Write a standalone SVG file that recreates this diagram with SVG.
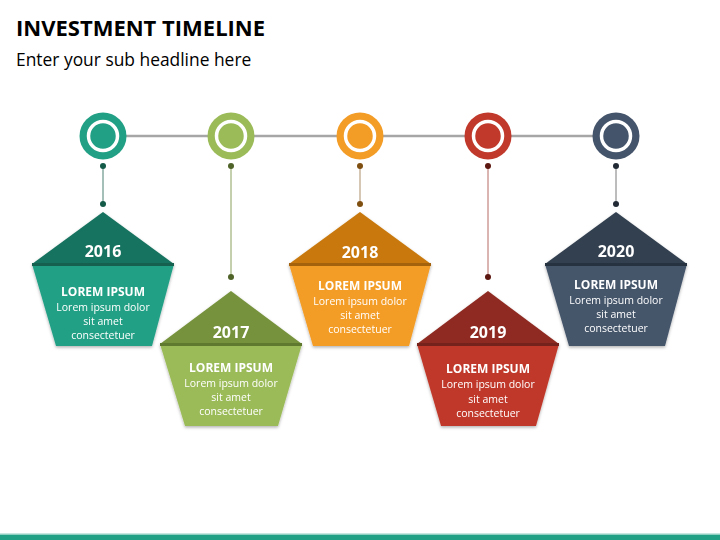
<svg xmlns="http://www.w3.org/2000/svg" width="720" height="540" viewBox="0 0 720 540">
<style>
.t{font-family:"Open Sans","Liberation Sans",sans-serif;fill:#000}
.w{font-family:"Open Sans","Liberation Sans",sans-serif;fill:#fff;text-anchor:middle}
.yr{font-size:16px;font-weight:bold}
.hd{font-size:12px;font-weight:bold}
.bd{font-size:10.5px}
</style>
<defs>
<filter id="sh" x="-20%" y="-20%" width="140%" height="140%"><feDropShadow dx="0" dy="1.5" stdDeviation="1.5" flood-color="#000" flood-opacity="0.3"/></filter>
</defs>
<rect width="720" height="540" fill="#fff"/>
<text class="t" x="16" y="36" font-size="22" font-weight="bold">INVESTMENT TIMELINE</text>
<text class="t" x="16" y="66" font-size="17.4">Enter your sub headline here</text>
<rect x="0" y="533.5" width="720" height="1.5" fill="#8fd0c2"/>
<rect x="0" y="535" width="720" height="5" fill="#22a085"/>

<g id="connectors">
<line x1="103" y1="136" x2="616" y2="136" stroke="#a6a6a6" stroke-width="2.5"/>
<line x1="103" y1="166" x2="103" y2="204" stroke="#4a7f72" stroke-width="1"/>
<line x1="231" y1="166" x2="231" y2="277" stroke="#8aa15c" stroke-width="1"/>
<line x1="360" y1="166" x2="360" y2="204" stroke="#c9b49c" stroke-width="1.5"/>
<line x1="488" y1="166" x2="488" y2="277" stroke="#b56a62" stroke-width="1"/>
<line x1="616" y1="166" x2="616" y2="204" stroke="#7a7a7a" stroke-width="1"/>
<circle cx="103" cy="166" r="3" fill="#145a48"/><circle cx="103" cy="204" r="3" fill="#145a48"/>
<circle cx="231" cy="166" r="3" fill="#4f6228"/><circle cx="231" cy="277" r="3" fill="#4f6228"/>
<circle cx="360" cy="166" r="3" fill="#7f4f12"/><circle cx="360" cy="204" r="3" fill="#7f4f12"/>
<circle cx="488" cy="166" r="3" fill="#5c1710"/><circle cx="488" cy="277" r="3" fill="#5c1710"/>
<circle cx="616" cy="166" r="3" fill="#222a35"/><circle cx="616" cy="204" r="3" fill="#222a35"/>
</g>

<g id="circle2016"><circle cx="103" cy="136" r="23.5" fill="#22a085"/><circle cx="103" cy="136" r="14.5" fill="#22a085" stroke="#fff" stroke-width="3.5"/></g>
<g id="circle2017"><circle cx="231" cy="136" r="23.5" fill="#9bbb59"/><circle cx="231" cy="136" r="14.5" fill="#9bbb59" stroke="#fff" stroke-width="3.5"/></g>
<g id="circle2018"><circle cx="360" cy="136" r="23.5" fill="#f39c26"/><circle cx="360" cy="136" r="14.5" fill="#f39c26" stroke="#fff" stroke-width="3.5"/></g>
<g id="circle2019"><circle cx="488" cy="136" r="23.5" fill="#c0392b"/><circle cx="488" cy="136" r="14.5" fill="#c0392b" stroke="#fff" stroke-width="3.5"/></g>
<g id="circle2020"><circle cx="616" cy="136" r="23.5" fill="#44546a"/><circle cx="616" cy="136" r="14.5" fill="#44546a" stroke="#fff" stroke-width="3.5"/></g>

<g id="node2016" filter="url(#sh)">
<polygon points="32,264 174,264 152,346 56,346" fill="#22a085"/>
<polygon points="103,212 174,264 32,264" fill="#17735f"/>
<rect x="32" y="263" width="142" height="3" fill="#12604f"/>
<text class="w yr" x="103" y="257">2016</text>
<text class="w hd" x="103" y="296">LOREM IPSUM</text>
<text class="w bd" x="103" y="311">Lorem ipsum dolor</text>
<text class="w bd" x="103" y="325">sit amet</text>
<text class="w bd" x="103" y="339">consectetuer</text>
</g>

<g id="node2017" filter="url(#sh)">
<polygon points="160,344 302,344 278,426 185,426" fill="#9bbb59"/>
<polygon points="231,291 302,344 160,344" fill="#76923c"/>
<rect x="160" y="343" width="142" height="3" fill="#5f7a2d"/>
<text class="w yr" x="231" y="338">2017</text>
<text class="w hd" x="231" y="372">LOREM IPSUM</text>
<text class="w bd" x="231" y="387">Lorem ipsum dolor</text>
<text class="w bd" x="231" y="401">sit amet</text>
<text class="w bd" x="231" y="415">consectetuer</text>
</g>

<g id="node2018" filter="url(#sh)">
<polygon points="289,264 431,264 409,346 313,346" fill="#f39c26"/>
<polygon points="360,212 431,264 289,264" fill="#c8780a"/>
<rect x="289" y="263" width="142" height="3" fill="#a5620a"/>
<text class="w yr" x="360" y="258">2018</text>
<text class="w hd" x="360" y="290">LOREM IPSUM</text>
<text class="w bd" x="360" y="305">Lorem ipsum dolor</text>
<text class="w bd" x="360" y="319">sit amet</text>
<text class="w bd" x="360" y="333">consectetuer</text>
</g>

<g id="node2019" filter="url(#sh)">
<polygon points="417,344 559,344 536,426 441,426" fill="#c0392b"/>
<polygon points="488,291 559,344 417,344" fill="#8e2a20"/>
<rect x="417" y="343" width="142" height="3" fill="#74201a"/>
<text class="w yr" x="488" y="338">2019</text>
<text class="w hd" x="488" y="373">LOREM IPSUM</text>
<text class="w bd" x="488" y="388">Lorem ipsum dolor</text>
<text class="w bd" x="488" y="403">sit amet</text>
<text class="w bd" x="488" y="417">consectetuer</text>
</g>

<g id="node2020" filter="url(#sh)">
<polygon points="545,264 687,264 665,346 569,346" fill="#44546a"/>
<polygon points="616,212 687,264 545,264" fill="#323f4f"/>
<rect x="545" y="263" width="142" height="3" fill="#28323f"/>
<text class="w yr" x="616" y="257">2020</text>
<text class="w hd" x="616" y="289">LOREM IPSUM</text>
<text class="w bd" x="616" y="304">Lorem ipsum dolor</text>
<text class="w bd" x="616" y="318">sit amet</text>
<text class="w bd" x="616" y="332">consectetuer</text>
</g>
</svg>
